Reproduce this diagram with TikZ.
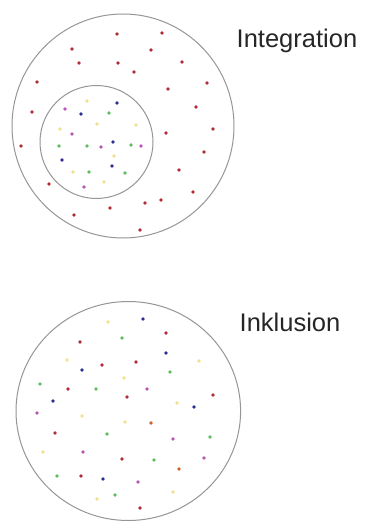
\documentclass[tikz,border=0pt]{standalone}
\usepackage{fontspec}
\setmainfont{Liberation Sans}
\definecolor{cred}{RGB}{175,45,55}
\definecolor{cblue}{RGB}{45,45,150}
\definecolor{cgreen}{RGB}{95,190,95}
\definecolor{cmag}{RGB}{185,85,185}
\definecolor{cyel}{RGB}{240,225,140}
\definecolor{corange}{RGB}{210,95,45}
\definecolor{ring}{RGB}{150,150,150}
\tikzset{
  ringline/.style={draw=ring,line width=1pt},
  lbl/.style={anchor=base west,inner sep=0pt,font=\fontsize{25.5}{30}\selectfont,text=black!85},
}
\newcommand{\dotsin}[2]{\foreach \p in {#2} \fill[#1] \p circle (1.9);}
\begin{document}
\begin{tikzpicture}[x=1pt,y=-1pt]
\useasboundingbox (0,0) rectangle (366,524);
\fill[white] (0,0) rectangle (366,524);
% top: integration
\draw[ringline] (123,126) ellipse (111 and 112);
\draw[ringline] (96.5,142) circle (56.5);
\dotsin{cred}{(117,34),(162,33),(72,49),(151,50),(79,63),(118,63),(182,62),(134,72),(37,82),(207,83),(168,89),(32,112),(196,107),(213,129),(166,133),(21,146),(204,152),(179,170),(49,184),(193,192),(145,203),(161,200),(110,208),(74,215),(140,230)}
\dotsin{cblue}{(117,103),(81,114),(113,142),(62,160),(112,166)}
\dotsin{cgreen}{(109,113),(59,146),(87,146),(131,145),(89,172),(125,173)}
\dotsin{cmag}{(65,109),(72,134),(101,147),(141,146),(84,187)}
\dotsin{cyel}{(87,101),(97,124),(136,125),(60,129),(114,156),(73,172),(104,182)}
\node[lbl] (integ) at (236.5,47.3) {Integration};
% bottom: inklusion
\draw[ringline] (128.3,411) ellipse (112.3 and 109.5);
\dotsin{cred}{(166,333),(80,342),(136,362),(102,365),(68,389),(127,397),(213,395),(55,433),(122,459),(81,476),(140,508)}
\dotsin{corange}{(151,423),(179,469)}
\dotsin{cblue}{(143,319),(166,353),(82,370),(53,401),(194,407),(103,479)}
\dotsin{cgreen}{(122,338),(170,372),(40,384),(96,389),(107,434),(210,437),(154,460),(57,476),(115,495)}
\dotsin{cmag}{(147,389),(37,413),(173,439),(83,452),(204,458),(138,482)}
\dotsin{cyel}{(108,322),(67,360),(199,361),(124,378),(177,403),(82,416),(125,422),(43,452),(97,499),(173,492)}
\node[lbl] (inkl) at (239.5,331.7) {Inklusion};
\end{tikzpicture}
\end{document}
